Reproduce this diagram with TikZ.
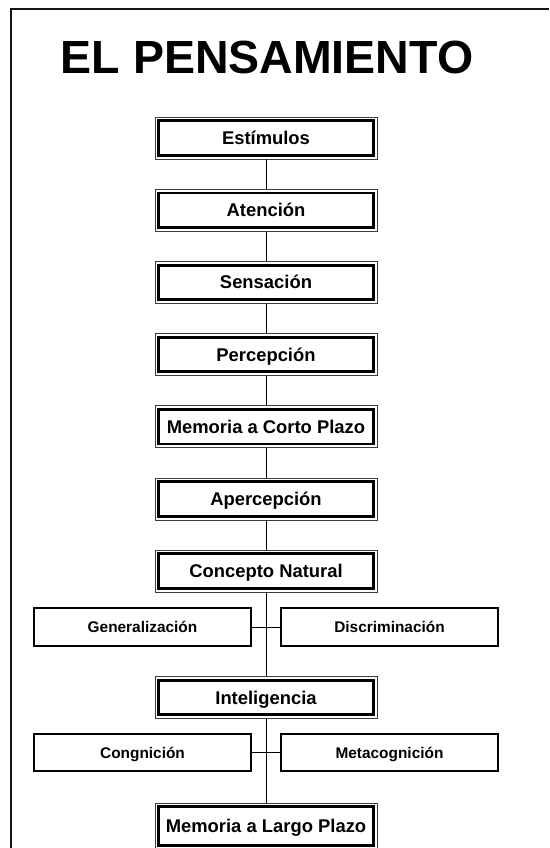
\documentclass[tikz,border=0pt]{standalone}
\usepackage{fontspec}
\setmainfont{Liberation Sans}
\usepackage{tikz}
\usetikzlibrary{positioning,calc}
\definecolor{framec}{RGB}{20,20,20}
\definecolor{edgec}{RGB}{60,60,60}
\tikzset{
  stage/.style    = {draw=edgec, line width=0.8pt, fill=white, minimum width=222pt,
                     minimum height=42pt, inner sep=0pt, align=center,
                     text height=13pt, text depth=0pt,
                     font=\fontsize{18.4}{21}\selectfont\bfseries,
                     path picture={\draw[black, line width=2.8pt]
                       ([shift={(3.8pt,-3.8pt)}]path picture bounding box.north west) rectangle
                       ([shift={(-3.8pt,3.8pt)}]path picture bounding box.south east);}},
  branch/.style   = {draw=black, line width=1.8pt, fill=white, minimum width=217pt,
                     minimum height=38pt, inner sep=0pt, align=center,
                     text height=11pt, text depth=0pt,
                     font=\fontsize{15.4}{18}\selectfont\bfseries},
  link/.style     = {draw=black, line width=1pt},
  headline/.style = {font=\fontsize{46.5}{50}\selectfont\bfseries, inner sep=0pt, anchor=base},
}
\begin{document}
\begin{tikzpicture}[x=1pt, y=1pt]
\useasboundingbox (0,0) rectangle (549,-848);

% open frame
\draw[framec, line width=1.8pt] (11,-848) -- (11,-9) -- (549,-9);

\node[headline] (title) at (267,-73.3) {EL PENSAMIENTO};

\node[stage] (estim) at (266,-138)   {Estímulos};
\node[stage] (aten)  at (266,-210.2) {Atención};
\node[stage] (sens)  at (266,-282.4) {Sensación};
\node[stage] (perc)  at (266,-354.6) {Percepción};
\node[stage] (mcp)   at (266,-426.8) {Memoria a Corto Plazo};
\node[stage] (aperc) at (266,-499)   {Apercepción};
\node[stage] (conc)  at (266,-571)   {Concepto Natural};

\node[branch] (gen)  at (142.5,-627) {Generalización};
\node[branch] (disc) at (389.5,-627) {Discriminación};

\node[stage] (intel) at (266,-697.5) {Inteligencia};

\node[branch, minimum height=37pt] (cogn) at (142.5,-752.5) {Congnición};
\node[branch, minimum height=37pt] (meta) at (389.5,-752.5) {Metacognición};

\node[stage, minimum height=46pt] (mlp) at (266,-826) {Memoria a Largo Plazo};

% main chain
\draw[link] (estim) -- (aten);
\draw[link] (aten) -- (sens);
\draw[link] (sens) -- (perc);
\draw[link] (perc) -- (mcp);
\draw[link] (mcp) -- (aperc);
\draw[link] (aperc) -- (conc);
\draw[link] (conc) -- (intel);
\draw[link] (intel) -- (mlp);
% side pairs
\draw[link] (gen) -- (disc);
\draw[link] (cogn) -- (meta);

\end{tikzpicture}
\end{document}
